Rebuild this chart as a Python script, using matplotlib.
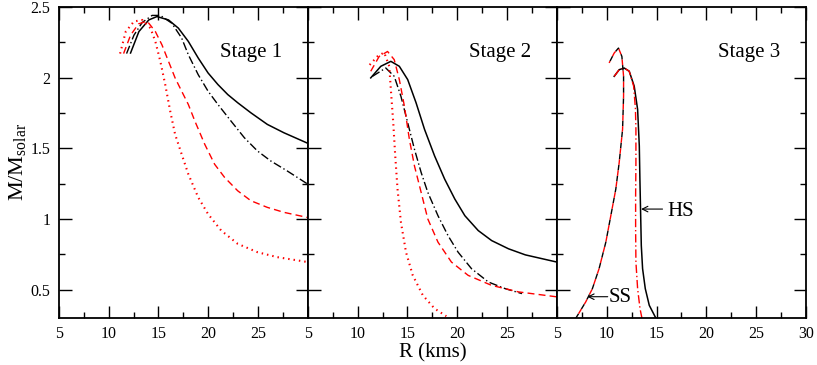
import matplotlib
matplotlib.use('Agg')
import matplotlib.pyplot as plt
import numpy as np

plt.rcParams['font.family'] = ['Liberation Serif', 'DejaVu Serif']
plt.rcParams['mathtext.fontset'] = 'custom'
plt.rcParams['mathtext.rm'] = 'Liberation Serif'
plt.rcParams['mathtext.it'] = 'Liberation Serif:italic'

# Stage 1 curves (R in km, M/Msolar)
s1_solid_r = [12.2, 13.04, 14.03, 14.85, 16.01, 17.0, 18.0, 18.99, 19.98, 20.97, 21.96, 22.96, 24.28, 25.93, 27.59, 30.0]
s1_solid_m = [2.174, 2.326, 2.408, 2.432, 2.408, 2.35, 2.256, 2.139, 2.033, 1.951, 1.88, 1.822, 1.751, 1.669, 1.61, 1.535]
s1_dashdot_r = [11.8, 12.54, 13.37, 14.36, 15.19, 16.34, 17.33, 18.0, 18.99, 19.98, 20.97, 22.29, 23.62, 24.94, 26.26, 27.92, 30.0]
s1_dashdot_m = [2.17, 2.30, 2.39, 2.44, 2.44, 2.385, 2.28, 2.162, 2.021, 1.904, 1.81, 1.692, 1.575, 1.481, 1.411, 1.34, 1.246]
s1_dashed_r = [11.5, 12.2, 13.0, 13.86, 14.69, 15.35, 16.01, 16.67, 17.33, 18.0, 18.66, 19.65, 20.64, 21.64, 22.96, 24.28, 25.93, 27.59, 30.0]
s1_dashed_m = [2.17, 2.30, 2.38, 2.40, 2.326, 2.232, 2.115, 1.998, 1.904, 1.81, 1.692, 1.528, 1.387, 1.294, 1.199, 1.129, 1.082, 1.047, 1.01]
s1_dotted_r = [11.15, 11.72, 12.54, 13.37, 14.2, 14.69, 15.19, 15.68, 16.18, 16.67, 17.33, 18.0, 18.99, 19.98, 21.3, 22.96, 24.94, 26.92, 30.0]
s1_dotted_m = [2.17, 2.326, 2.397, 2.408, 2.35, 2.256, 2.115, 1.951, 1.763, 1.599, 1.458, 1.317, 1.153, 1.035, 0.918, 0.824, 0.765, 0.73, 0.695]

# Stage 2 curves
s2_solid_r = [11.31, 12.32, 13.33, 14.18, 15.02, 15.86, 16.71, 17.72, 18.73, 19.75, 20.76, 22.1, 23.45, 25.14, 26.83, 30.0]
s2_solid_m = [1.998, 2.08, 2.115, 2.08, 1.986, 1.822, 1.634, 1.446, 1.282, 1.141, 1.023, 0.918, 0.847, 0.789, 0.746, 0.695]
s2_dashdot_r = [11.48, 12.82, 13.67, 14.34, 15.02, 15.7, 16.37, 17.04, 18.06, 19.07, 20.08, 21.43, 23.12, 24.81, 26.49]
s2_dashdot_m = [2.009, 2.068, 2.009, 1.868, 1.681, 1.493, 1.329, 1.188, 1.023, 0.882, 0.765, 0.648, 0.554, 0.507, 0.472]
s2_dashed_r = [11.31, 12.16, 13.0, 13.67, 14.18, 14.69, 15.19, 15.7, 16.37, 17.04, 18.06, 19.41, 21.09, 23.45, 26.15, 30.0]
s2_dashed_m = [2.045, 2.15, 2.185, 2.127, 1.986, 1.798, 1.563, 1.375, 1.188, 1.0, 0.836, 0.695, 0.601, 0.53, 0.484, 0.449]
s2_dotted_r = [11.2, 11.98, 12.66, 13.17, 13.33, 13.57, 13.77, 14.0, 14.34, 14.85, 15.53, 16.54, 17.72, 18.9]
s2_dotted_m = [2.09, 2.15, 2.178, 2.08, 1.915, 1.681, 1.446, 1.211, 0.977, 0.765, 0.601, 0.46, 0.366, 0.312]

# Stage 3 curves: strange star (SS) and hybrid star (HS)
s3_ss_r = [6.88, 7.89, 8.56, 9.23, 9.91, 10.41, 10.91, 11.25, 11.59, 11.69, 11.69, 11.52, 11.18, 10.75, 10.24]
s3_ss_m = [0.296, 0.413, 0.507, 0.648, 0.836, 1.023, 1.211, 1.399, 1.634, 1.868, 2.009, 2.15, 2.209, 2.174, 2.104]
s3_hs_r = [14.95, 14.27, 13.87, 13.6, 13.47, 13.4, 13.33, 13.27, 13.1, 12.76, 12.26, 11.75, 11.25, 10.75]
s3_hs_m = [0.296, 0.389, 0.507, 0.648, 0.812, 1.047, 1.282, 1.516, 1.775, 1.939, 2.045, 2.068, 2.056, 2.009]
s3_red_r = [13.54, 13.34, 13.1, 12.93, 12.9, 12.9, 12.93, 12.93, 12.88, 12.7, 12.26, 11.75, 11.25, 10.75]
s3_red_m = [0.296, 0.366, 0.507, 0.695, 0.93, 1.164, 1.399, 1.634, 1.78, 1.94, 2.045, 2.068, 2.056, 2.009]

stage_labels = ['Stage 1', 'Stage 2', 'Stage 3']
xticks = [5, 10, 15, 20, 25, 30]
yticks = [0.5, 1, 1.5, 2, 2.5]
ytick_labels = ['0.5', '1', '1.5', '2', '2.5']

dashdot = (0, (6, 2, 1, 2))
dashed = (0, (5, 3))
dotted = (0, (0.7, 1.9))

fig, axes = plt.subplots(1, 3, figsize=(8.17, 3.65), dpi=100, sharey=True)
fig.subplots_adjust(left=0.072, right=0.9865, top=0.981, bottom=0.129, wspace=0)

ax = axes[0]
ax.plot(s1_solid_r, s1_solid_m, color='black', lw=1.1)
ax.plot(s1_dashdot_r, s1_dashdot_m, color='black', lw=1.0, ls=dashdot)
ax.plot(s1_dashed_r, s1_dashed_m, color='red', lw=1.0, ls=dashed)
ax.plot(s1_dotted_r, s1_dotted_m, color='red', lw=1.5, ls=dotted)

ax = axes[1]
ax.plot(s2_solid_r, s2_solid_m, color='black', lw=1.1)
ax.plot(s2_dashdot_r, s2_dashdot_m, color='black', lw=1.0, ls=dashdot)
ax.plot(s2_dashed_r, s2_dashed_m, color='red', lw=1.0, ls=dashed)
ax.plot(s2_dotted_r, s2_dotted_m, color='red', lw=1.5, ls=dotted)

ax = axes[2]
ax.plot(s3_hs_r, s3_hs_m, color='black', lw=1.1)
ax.plot(s3_red_r, s3_red_m, color='red', lw=1.0, ls=dashdot)
ax.plot(s3_ss_r, s3_ss_m, color='black', lw=1.0, ls=(0, (4, 4)))
ax.plot(s3_ss_r, s3_ss_m, color='red', lw=1.0, ls=(4, (4, 4)))
ax.annotate('', xy=(13.45, 1.07), xytext=(15.6, 1.07),
            arrowprops=dict(arrowstyle='->', color='black', lw=0.8,
                            shrinkA=0, shrinkB=0, mutation_scale=10))
ax.text(17.4, 1.05, 'HS', fontsize=15, ha='center', va='center')
ax.annotate('', xy=(8.05, 0.45), xytext=(10.1, 0.45),
            arrowprops=dict(arrowstyle='->', color='black', lw=0.8,
                            shrinkA=0, shrinkB=0, mutation_scale=10))
ax.text(11.35, 0.445, 'SS', fontsize=15, ha='center', va='center')

for i, ax in enumerate(axes):
    ax.set_xlim(5, 30)
    ax.set_ylim(0.3, 2.5)
    ax.set_xticks(xticks)
    if i < 2:
        ax.set_xticklabels([str(t) for t in xticks[:-1]] + [''])
    ax.set_xticks(np.arange(7.5, 30, 5), minor=True)
    ax.set_yticks(yticks)
    ax.set_yticklabels(ytick_labels)
    ax.set_yticks(np.arange(0.75, 2.5, 0.5), minor=True)
    ax.tick_params(which='both', direction='in', top=True, right=True,
                   labelsize=11.5, width=1.0, pad=6)
    ax.tick_params(which='major', length=9)
    ax.tick_params(which='minor', length=4.5)
    for sp in ax.spines.values():
        sp.set_linewidth(1.3)
    ax.text(0.77, 0.855, stage_labels[i], transform=ax.transAxes,
            fontsize=15, ha='center', va='center')

axes[0].set_ylabel(r'M/M$_{\mathrm{solar}}$', fontsize=16, labelpad=2)
axes[1].set_xlabel('R (kms)', fontsize=15, labelpad=1)

fig.savefig('out.png', dpi=100)
